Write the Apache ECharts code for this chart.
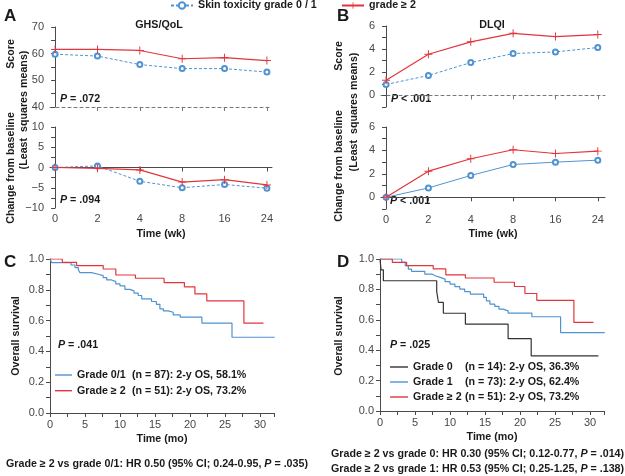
<!DOCTYPE html>
<html>
<head>
<meta charset="utf-8">
<script src="https://cdn.jsdelivr.net/npm/echarts@6/dist/echarts.min.js"></script>
<style>
html, body { margin: 0; padding: 0; background: #fff; }
#main { width: 625px; height: 476px; }
</style>
</head>
<body>
<div id="main"></div>
<script>
// time points (weeks) for panels A and B
var weeks = ['0', '2', '4', '8', '16', '24'];

// GHS/QoL
var ghsScoreLow = [59.8, 59.1, 55.9, 54.4, 54.4, 53.1];
var ghsScoreHigh = [61.6, 61.6, 61.2, 58.1, 58.5, 57.4];
var ghsChangeLow = [0, 0.4, -3.4, -5.0, -4.2, -5.1];
var ghsChangeHigh = [0, -0.2, -0.6, -3.6, -3.0, -4.3];

// DLQI
var dlqiScoreLow = [0.95, 1.72, 2.84, 3.62, 3.76, 4.14];
var dlqiScoreHigh = [1.32, 3.56, 4.63, 5.37, 5.09, 5.26];
var dlqiChangeLow = [0, 0.8, 1.86, 2.8, 3.0, 3.17];
var dlqiChangeHigh = [0, 2.23, 3.29, 4.06, 3.74, 3.94];

// Kaplan-Meier steps [month, survival]
var osGrade01 = [[0, 1], [0.24, 0.976], [3.0, 0.961], [3.57, 0.944], [4.05, 0.929], [4.29, 0.911],
  [5.95, 0.901], [6.9, 0.892], [7.6, 0.879], [8.1, 0.864], [8.8, 0.853], [9.4, 0.838], [10.0, 0.825],
  [10.7, 0.803], [11.4, 0.793], [12.0, 0.778], [12.6, 0.763], [13.1, 0.741], [14.5, 0.724],
  [15.2, 0.706], [15.7, 0.676], [16.2, 0.663], [16.9, 0.654], [17.6, 0.637], [18.6, 0.622],
  [21.7, 0.583], [26.0, 0.492], [32.1, 0.492]];
var osGrade2 = [[0, 1], [1.76, 0.978], [3.8, 0.957], [7.6, 0.935], [9.4, 0.896], [12.2, 0.875],
  [16.3, 0.847], [19.2, 0.819], [20.7, 0.773], [22.4, 0.728], [27.7, 0.583], [30.5, 0.583]];
var osGrade0 = [[0, 1], [0.15, 0.929], [0.48, 0.857], [8.1, 0.786], [8.35, 0.714], [9.05, 0.643],
  [12.2, 0.571], [18.3, 0.476], [21.6, 0.363], [31.2, 0.363]];
var osGrade1 = [[0, 1], [3.1, 0.978], [3.6, 0.956], [4.05, 0.934], [4.5, 0.919], [6.4, 0.901],
  [7.4, 0.89], [7.9, 0.879], [8.6, 0.868], [9.3, 0.851], [10.0, 0.835], [10.7, 0.818], [11.4, 0.802],
  [12.1, 0.785], [12.9, 0.769], [14.8, 0.747], [15.2, 0.725], [15.7, 0.703], [16.4, 0.688],
  [17.0, 0.670], [17.6, 0.659], [18.3, 0.644], [21.7, 0.62], [25.8, 0.516], [32.1, 0.516]];

var nameLow = 'Skin toxicity grade 0 / 1';
var nameHigh = 'grade \u2265 2';
var kmC = ['Grade 0/1 (n = 87): 2-y OS, 58.1%', 'Grade \u2265 2 (n = 51): 2-y OS, 73.2%'];
var kmD = ['Grade 0 (n = 14): 2-y OS, 36.3%', 'Grade 1 (n = 73): 2-y OS, 62.4%', 'Grade \u2265 2 (n = 51): 2-y OS, 73.2%'];

var blue = '#4f93d2';
var red = '#e3353b';
var grey = '#4a4a4a';
var font = 'Liberation Sans, Arial, sans-serif';
var fs = 10.7;
var plus = 'path://M4.4,0H5.6V4.4H10V5.6H5.6V10H4.4V5.6H0V4.4H4.4Z';

function pts(arr) {
  return arr.map(function (v, i) { return [i, v]; });
}

function weekSeries(name, axis, arr, low, dashed) {
  return {
    name: name, type: 'line', xAxisIndex: axis, yAxisIndex: axis,
    data: pts(arr),
    symbol: low ? 'emptyCircle' : plus,
    symbolSize: low ? 5 : 8,
    itemStyle: { color: low ? blue : red, borderWidth: 1 },
    lineStyle: { color: low ? blue : red, width: low ? 1 : 1.2, type: dashed ? [3, 2] : 'solid' },
    z: low ? 3 : 4
  };
}

function kmSeries(name, axis, arr, color) {
  return {
    name: name, type: 'line', xAxisIndex: axis, yAxisIndex: axis,
    data: arr, step: 'end', symbol: 'none',
    lineStyle: { color: color, width: 1.2 },
    itemStyle: { color: color }
  };
}

var axLine = { lineStyle: { color: grey, width: 1 } };
var axLabel = { color: '#474747', fontSize: 11, fontFamily: font };

function weekX(grid, min, max, top) {
  return {
    type: 'value', gridIndex: grid, min: min, max: max,
    axisLine: top ? { lineStyle: { color: '#777', type: [3, 3], width: 1 } } : axLine,
    axisTick: { customValues: top ? [1, 2, 3, 4, 5] : [0, 1, 2, 3, 4, 5], length: 4, lineStyle: { color: top ? '#777' : grey } },
    axisLabel: top ? { show: false } : Object.assign({}, axLabel, {
      customValues: [0, 1, 2, 3, 4, 5], margin: 5,
      formatter: function (v) { return weeks[Math.round(v)]; }
    }),
    splitLine: { show: false }
  };
}

function valY(grid, min, max, step, show) {
  return {
    type: 'value', gridIndex: grid, min: min, max: max, interval: step,
    axisLine: { show: true, lineStyle: { color: grey, width: 1 } },
    axisTick: { show: true, length: 4, lineStyle: { color: grey } },
    axisLabel: Object.assign({}, axLabel, {
      margin: 6,
      formatter: function (v) { return show(v) ? String(v).replace('-', '\u2212') : ''; }
    }),
    splitLine: { show: false }
  };
}

function kmX(grid) {
  return {
    type: 'value', gridIndex: grid, min: 0, max: 32, interval: 2.5,
    axisLine: axLine,
    axisTick: { length: 4, lineStyle: { color: grey } },
    axisLabel: Object.assign({}, axLabel, {
      margin: 6,
      formatter: function (v) { return v % 5 === 0 ? v : ''; }
    }),
    splitLine: { show: false }
  };
}

function kmY(grid) {
  return {
    type: 'value', gridIndex: grid, min: 0, max: 1, interval: 0.1,
    axisLine: { show: true, lineStyle: { color: grey, width: 1 } },
    axisTick: { length: 4, lineStyle: { color: grey } },
    axisLabel: Object.assign({}, axLabel, {
      margin: 6,
      formatter: function (v) { return Math.round(v * 10) % 2 === 0 ? v.toFixed(1) : ''; }
    }),
    splitLine: { show: false }
  };
}

function txt(x, y, s, o) {
  o = o || {};
  return {
    type: 'text', x: x, y: y, rotation: o.rot || 0,
    style: {
      text: s, fill: o.color || '#1a1a1a',
      font: (o.weight || 'bold') + ' ' + (o.size || fs) + 'px ' + font,
      textAlign: o.align || 'center', textVerticalAlign: 'middle',
      rich: o.rich
    }
  };
}

var pRich = {
  i: { fontStyle: 'italic', fontWeight: 'bold', fontSize: fs, fontFamily: font, fill: '#1a1a1a' },
  n: { fontWeight: 'bold', fontSize: fs, fontFamily: font, fill: '#1a1a1a' }
};
function pTxt(x, y, s) {
  return txt(x, y, '{i|P}{n|' + s + '}', { align: 'left', rich: pRich });
}

var legText = { fontSize: fs, fontWeight: 'bold', fontFamily: font, color: '#1a1a1a' };

function kmLegend(names, left, top, wa, iw, gap) {
  return {
    data: names, left: left, top: top, orient: 'vertical', padding: 0,
    icon: 'rect', itemWidth: iw, itemHeight: 1.4, itemGap: gap, selectedMode: false,
    formatter: function (n) {
      var k = n.indexOf('(');
      return '{a|' + n.slice(0, k) + '}{b|' + n.slice(k) + '}';
    },
    textStyle: {
      rich: {
        a: Object.assign({ width: wa }, legText),
        b: Object.assign({}, legText)
      }
    }
  };
}

var chart = echarts.init(document.getElementById('main'));
chart.setOption({
  animation: false,
  textStyle: { fontFamily: font },
  grid: [
    { left: 50, top: 27, width: 222, height: 80, outerBoundsMode: 'none' },
    { left: 50, top: 127, width: 222, height: 81, outerBoundsMode: 'none' },
    { left: 381, top: 26, width: 224, height: 81, outerBoundsMode: 'none' },
    { left: 381, top: 127, width: 224, height: 82, outerBoundsMode: 'none' },
    { left: 50, top: 259, width: 224, height: 154, outerBoundsMode: 'none' },
    { left: 380, top: 259, width: 224, height: 152, outerBoundsMode: 'none' }
  ],
  xAxis: [
    weekX(0, -0.12, 5.12, true),
    weekX(1, -0.12, 5.12, false),
    weekX(2, -0.12, 5.17, true),
    weekX(3, -0.12, 5.17, false),
    kmX(4),
    kmX(5)
  ],
  yAxis: [
    valY(0, 40, 70, 5, function (v) { return v % 10 === 0; }),
    valY(1, -10, 10, 2.5, function (v) { return v % 5 === 0; }),
    valY(2, -1, 6, 1, function (v) { return v >= 0 && v % 2 === 0; }),
    valY(3, -1, 6, 1, function (v) { return v >= 0 && v % 2 === 0; }),
    kmY(4),
    kmY(5)
  ],
  legend: [
    { data: [nameLow], left: 170, top: 0, padding: 0, itemWidth: 22, itemHeight: 8, selectedMode: false, textStyle: legText },
    { data: [nameHigh], left: 341, top: 0, padding: 0, itemWidth: 22, itemHeight: 8, selectedMode: false, textStyle: legText },
    kmLegend(kmC, 55, 369.5, 55, 17, 4.7),
    kmLegend(kmD, 390, 361.5, 52, 18, 4)
  ],
  series: [
    weekSeries(nameLow, 0, ghsScoreLow, true, true),
    weekSeries(nameHigh, 0, ghsScoreHigh, false, false),
    weekSeries(nameLow, 1, ghsChangeLow, true, true),
    weekSeries(nameHigh, 1, ghsChangeHigh, false, false),
    weekSeries(nameLow, 2, dlqiScoreLow, true, true),
    weekSeries(nameHigh, 2, dlqiScoreHigh, false, false),
    weekSeries(nameLow, 3, dlqiChangeLow, true, false),
    weekSeries(nameHigh, 3, dlqiChangeHigh, false, false),
    kmSeries(kmC[0], 4, osGrade01, blue),
    kmSeries(kmC[1], 4, osGrade2, red),
    kmSeries(kmD[0], 5, osGrade0, '#333333'),
    kmSeries(kmD[1], 5, osGrade1, blue),
    kmSeries(kmD[2], 5, osGrade2, red)
  ],
  graphic: [
    txt(4, 16, 'A', { size: 17, align: 'left' }),
    txt(337, 16, 'B', { size: 17, align: 'left' }),
    txt(4, 262, 'C', { size: 17, align: 'left' }),
    txt(337, 262, 'D', { size: 17, align: 'left' }),
    txt(159, 25, 'GHS/QoL'),
    txt(492, 25, 'DLQI'),
    txt(11, 54, 'Score', { rot: Math.PI / 2 }),
    txt(24, 110, '(Least  squares means)', { rot: Math.PI / 2 }),
    txt(11, 168, 'Change from baseline', { rot: Math.PI / 2 }),
    txt(339, 56, 'Score', { rot: Math.PI / 2 }),
    txt(354, 112, '(Least  squares means)', { rot: Math.PI / 2 }),
    txt(339, 166, 'Change from baseline', { rot: Math.PI / 2 }),
    txt(161, 234, 'Time (wk)'),
    txt(493, 234, 'Time (wk)'),
    txt(16, 336, 'Overall survival', { rot: Math.PI / 2 }),
    txt(339, 336, 'Overall survival', { rot: Math.PI / 2 }),
    txt(162, 439, 'Time (mo)'),
    txt(492, 437, 'Time (mo)'),
    pTxt(60, 99, ' = .072'),
    pTxt(60, 200, ' = .094'),
    pTxt(391, 99, ' < .001'),
    pTxt(390, 201, ' < .001'),
    pTxt(58, 345, ' = .041'),
    pTxt(390, 345, ' = .025'),
    txt(157, 464, '{n|Grade \u2265 2 vs grade 0/1: HR 0.50 (95% CI; 0.24-0.95, }{i|P}{n| = .035)}', { rich: pRich }),
    txt(331, 454, '{n|Grade \u2265 2 vs grade 0: HR 0.30 (95% CI; 0.12-0.77, }{i|P}{n| = .014)}', { align: 'left', rich: pRich }),
    txt(331, 469, '{n|Grade \u2265 2 vs grade 1: HR 0.53 (95% CI; 0.25-1.25, }{i|P}{n| = .138)}', { align: 'left', rich: pRich })
  ]
});
</script>
</body>
</html>
